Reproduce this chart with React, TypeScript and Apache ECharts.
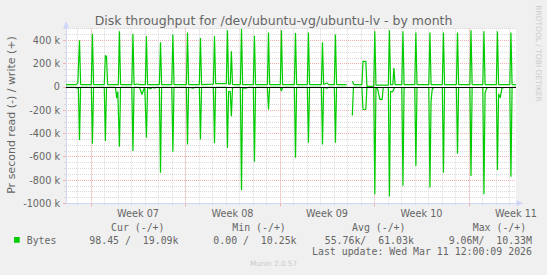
import React, { useEffect, useRef } from 'react';
import * as echarts from 'echarts';

// ---- Data (hours relative to Monday 00:00 of Week 07; values in kB/s) ----
const writeData: (number | null)[][] = [
  [-44, 20], [-26, 20], [-23, 34], [-20, 400], [-18, 20],
  [1, 20], [3, 457], [5, 20],
  [24, 20], [26, 269], [28, 262], [30, 20],
  [49, 20], [51, 477], [53, 20],
  [73, 20], [75, 457], [77, 20], [84, 25], [86, 20],
  [97, 20], [99, 434], [101, 20],
  [122, 20], [124, 383], [126, 20],
  [144, 20], [146, 449], [148, 20],
  [170, 20], [172, 468], [174, 20],
  [193, 20], [195, 420], [197, 20],
  [218, 24], [220, 434], [222, 28],
  [241, 28], [243, 486], [245, 24], [248, 24], [250, 306], [252, 20],
  [266, 20], [268, 497], [270, 20],
  [289, 20], [291, 440], [293, 20],
  [314, 20], [316, 468], [318, 20],
  [337, 20], [339, 486], [341, 20],
  [362, 20], [364, 463], [366, 20],
  [385, 20], [387, 468], [389, 20],
  [410, 20], [412, 383], [414, 20], [420, 34], [423, 20],
  [433, 20], [435, 451], [437, 20], [455, 20],
  [460, null],
  [465, 49], [468, 20], [482, 20], [484, 220], [489, 220], [491, 5], [503, 5],
  [505, 477], [507, 15],
  [529, 15], [531, 486], [533, 20], [537, 20], [539, 163], [541, 20],
  [553, 20], [555, 477], [557, 20],
  [576, 20], [578, 468], [580, 20],
  [601, 20], [603, 468], [605, 20],
  [625, 20], [627, 468], [629, 20],
  [650, 20], [652, 468], [654, 20],
  [674, 20], [676, 486], [678, 20],
  [697, 20], [699, 477], [701, 20],
  [721, 20], [723, 477], [725, 20],
  [745, 20], [747, 468], [749, 20], [756, 19],
];

const readData: (number | null)[][] = [
  [-44, -3], [-26, -3], [-24, -12], [-22, -3], [-20, -457], [-18, -3],
  [1, -3], [3, -488], [5, -3],
  [24, -3], [26, -465], [28, -3],
  [44, -3], [46, -94], [48, -40], [51, -514], [53, -3],
  [73, -3], [75, -551], [77, -3],
  [86, -3], [88, -20], [91, -65], [94, -25], [96, -3], [99, -437], [101, -3],
  [106, -15], [110, -3], [114, -10], [116, -3],
  [122, -3], [124, -737], [126, -3],
  [144, -3], [146, -557], [148, -3],
  [170, -3], [172, -494], [174, -3], [182, -10], [186, -3],
  [193, -3], [195, -451], [197, -3],
  [218, -3], [220, -485], [222, -3],
  [241, -3], [243, -522], [245, -40], [248, -40], [250, -251], [252, -10], [256, -3],
  [266, -3], [268, -888], [270, -10], [276, -10], [280, -3],
  [289, -3], [291, -642], [293, -3],
  [314, -3], [316, -194], [318, -3],
  [337, -3], [339, -35], [341, -3],
  [362, -3], [364, -608], [366, -3],
  [385, -3], [387, -479], [389, -3],
  [410, -3], [412, -494], [414, -3], [420, -12], [423, -3],
  [433, -3], [435, -479], [437, -3], [455, -3],
  [460, null],
  [465, -245], [467, -3], [482, -3], [484, -194], [489, -194], [491, -3], [503, -3],
  [505, -922], [507, -5], [510, -20], [514, -108], [518, -108], [520, -5],
  [529, -5], [531, -942], [533, -40], [537, -40], [539, -15], [541, -5],
  [553, -5], [555, -850], [557, -10], [560, -5],
  [576, -5], [578, -679], [580, -5],
  [601, -5], [603, -865], [605, -122], [607, -20], [610, -5],
  [625, -5], [627, -737], [629, -5],
  [650, -5], [652, -574], [654, -5],
  [674, -5], [676, -765], [678, -5],
  [697, -5], [699, -922], [701, -51], [704, -10], [707, -5],
  [721, -5], [723, -714], [725, -60], [728, -94], [731, -10], [735, -5],
  [745, -5], [747, -771], [749, -5], [756, -1],
];

const xMin = -44;
const xMax = 756;
const weekTickHours = [0, 168, 336, 504, 672];
const weekLabelHours = [84, 252, 420, 588, 756];
const weekLabels = ['Week 07', 'Week 08', 'Week 09', 'Week 10', 'Week 11'];

const yMin = -1000;
const yMax = 500;
const yMinorStep = 50;
const yMajorTicks = [-1000, -800, -600, -400, -200, 0, 200, 400];
const yMajorLabels = ['-1000 k', '-800 k', '-600 k', '-400 k', '-200 k', '0', '200 k', '400 k'];

const titleText = 'Disk throughput for /dev/ubuntu-vg/ubuntu-lv - by month';
const yAxisName = 'Pr second read (-) / write (+)';
const legendHeaders = ['Cur (-/+)', 'Min (-/+)', 'Avg (-/+)', 'Max (-/+)'];
const legendName = 'Bytes';
const legendValues = ['98.45 /  19.09k', '0.00 /  10.25k', '55.76k/  61.03k', '9.06M/  10.33M'];
const lastUpdate = 'Last update: Wed Mar 11 12:00:09 2026';
const footer = 'Munin 2.0.57';
const sideText = 'RRDTOOL / TOBI OETIKER';

const dayTickHours: number[] = [];
for (let h = Math.ceil(xMin / 24) * 24; h <= xMax; h += 24) dayTickHours.push(h);

const GREEN = '#00cc00';
const FONT = '#666666';
const AXIS = '#CFD6F8';
const GRID = '#d9d9d9';
const MGRID = '#f3b0b0';
const SANS = '"DejaVu Sans", sans-serif';
const MONO = '"DejaVu Sans Mono", monospace';

export default function App() {
  const ref = useRef<HTMLDivElement>(null);
  useEffect(() => {
    document.body.style.margin = '0';
    if (!ref.current) return;
    const chart = echarts.init(ref.current, null, { renderer: 'svg' });
    const headerX = [111, 232.3, 352, 472.7];
    const valueX = [89.3, 213.3, 324.7, 448.7];
    const option: any = {
      animation: false,
      backgroundColor: '#f0f0f0',
      textStyle: { fontFamily: SANS },
      grid: {
        left: 66, top: 28.7, width: 450, height: 174.6,
        show: true, backgroundColor: '#ffffff', borderWidth: 0,
        containLabel: false, outerBoundsMode: 'none',
      },
      xAxis: [
        {
          type: 'value', min: xMin, max: xMax, position: 'bottom', offset: 0,
          axisLine: {
            show: true, onZero: false,
            lineStyle: { color: AXIS, width: 1 },
            symbol: ['none', 'triangle'], symbolSize: [6, 7], symbolOffset: [0, 4],
          },
          axisTick: { show: true, length: 2, customValues: dayTickHours, lineStyle: { color: GRID } },
          axisLabel: { show: false },
          splitLine: { show: true, lineStyle: { color: GRID, type: [1, 1], width: 1 } },
        },
        {
          type: 'value', min: xMin, max: xMax, position: 'bottom', offset: 0,
          axisLine: { show: false, onZero: false },
          axisTick: { show: true, length: 3, customValues: weekTickHours, lineStyle: { color: MGRID } },
          axisLabel: {
            show: true, customValues: weekLabelHours, margin: 5,
            color: FONT, fontSize: 9.7, fontFamily: SANS,
            formatter: (v: number) => weekLabels[weekLabelHours.indexOf(v)] ?? '',
          },
          splitLine: { show: true, lineStyle: { color: MGRID, type: [1, 1], width: 1 } },
        },
      ],
      yAxis: [
        {
          type: 'value', min: yMin, max: yMax, interval: yMinorStep, position: 'left', offset: 0,
          axisLine: {
            show: true, onZero: false,
            lineStyle: { color: AXIS, width: 1 },
            symbol: ['none', 'triangle'], symbolSize: [6, 7], symbolOffset: [0, 4],
          },
          axisTick: { show: true, length: 2, lineStyle: { color: GRID } },
          axisLabel: { show: false },
          splitLine: { show: true, lineStyle: { color: GRID, type: [1, 1], width: 1 } },
        },
        {
          type: 'value', min: yMin, max: yMax, position: 'left', offset: 0,
          axisLine: { show: false, onZero: false },
          axisTick: { show: true, length: 3, customValues: yMajorTicks, lineStyle: { color: MGRID } },
          axisLabel: {
            show: true, customValues: yMajorTicks, margin: 6,
            color: FONT, fontSize: 9.7, fontFamily: SANS,
            formatter: (v: number) => yMajorLabels[yMajorTicks.indexOf(v)] ?? '',
          },
          splitLine: { show: true, lineStyle: { color: MGRID, type: [1, 1], width: 1 } },
        },
      ],
      series: [
        {
          name: 'write', type: 'line', data: writeData, xAxisIndex: 0, yAxisIndex: 0,
          showSymbol: false, connectNulls: false, z: 3,
          lineStyle: { color: GREEN, width: 1.2 }, itemStyle: { color: GREEN },
        },
        {
          name: 'read', type: 'line', data: readData, xAxisIndex: 0, yAxisIndex: 0,
          showSymbol: false, connectNulls: false, z: 3,
          lineStyle: { color: GREEN, width: 1.2 }, itemStyle: { color: GREEN },
        },
        {
          name: 'zero', type: 'line', data: [], xAxisIndex: 0, yAxisIndex: 0, z: 4,
          markLine: {
            silent: true, symbol: ['none', 'none'], label: { show: false },
            lineStyle: { color: '#000000', width: 1.2, type: 'solid' },
            data: [{ yAxis: 0 }],
          },
        },
      ],
      graphic: [
        {
          type: 'text', x: 273.5, y: 20.5,
          style: { text: titleText, fill: FONT, font: `12.5px ${SANS}`, textAlign: 'center', textVerticalAlign: 'middle' },
        },
        {
          type: 'text', x: 11.5, y: 115, rotation: Math.PI / 2,
          style: { text: yAxisName, fill: FONT, font: `11px ${SANS}`, textAlign: 'center', textVerticalAlign: 'middle' },
        },
        {
          type: 'text', x: 538.5, y: 53.5, rotation: -Math.PI / 2,
          style: { text: sideText, fill: '#cccccc', font: `7.5px ${SANS}`, textAlign: 'center', textVerticalAlign: 'middle' },
        },
        ...legendHeaders.map((h, i) => ({
          type: 'text', x: headerX[i], y: 227.5,
          style: { text: h, fill: FONT, font: `9.9px ${MONO}`, textAlign: 'left', textVerticalAlign: 'middle' },
        })),
        {
          type: 'rect', shape: { x: 14, y: 237, width: 5.7, height: 5.7 },
          style: { fill: GREEN },
        },
        {
          type: 'text', x: 26.7, y: 240,
          style: { text: legendName, fill: FONT, font: `9.9px ${MONO}`, textAlign: 'left', textVerticalAlign: 'middle' },
        },
        ...legendValues.map((v, i) => ({
          type: 'text', x: valueX[i], y: 240,
          style: { text: v, fill: FONT, font: `9.9px ${MONO}`, textAlign: 'left', textVerticalAlign: 'middle' },
        })),
        {
          type: 'text', x: 312, y: 251.5,
          style: { text: lastUpdate, fill: FONT, font: `9.9px ${MONO}`, textAlign: 'left', textVerticalAlign: 'middle' },
        },
        {
          type: 'text', x: 273.5, y: 263,
          style: { text: footer, fill: '#c8c8c8', font: `7.2px ${SANS}`, textAlign: 'center', textVerticalAlign: 'middle' },
        },
      ],
    };
    chart.setOption(option);
    return () => chart.dispose();
  }, []);
  return (
    <div
      ref={ref}
      style={{ width: 547, height: 275, position: 'fixed', left: 0, top: 0 }}
    />
  );
}
